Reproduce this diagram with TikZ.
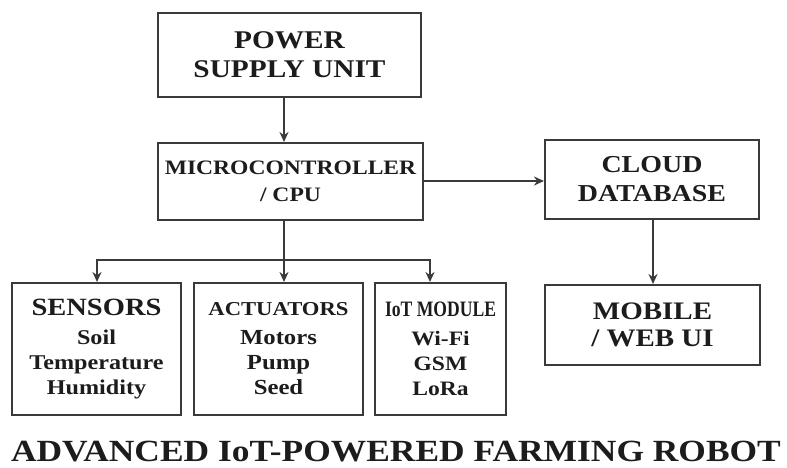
\documentclass[tikz,border=0pt]{standalone}
\usepackage{fontspec}
\setmainfont{Liberation Serif}
\newfontfamily\wideserif[FakeStretch=1.15]{Liberation Serif}
\newfontfamily\plainserif{Liberation Serif}
\usetikzlibrary{arrows.meta}
\definecolor{ink}{HTML}{1C1C1C}
\definecolor{frame}{HTML}{3A3A3A}
\newcommand{\fsz}[2]{\fontsize{#1}{#2}\selectfont}
\tikzset{
  block/.style={draw=frame, line width=2pt, rectangle, inner sep=0pt,
    align=center, text=ink, font=\wideserif\bfseries},
  link/.style={draw=frame, line width=2pt,
    -{Stealth[length=10pt,width=9pt]}},
  wire/.style={draw=frame, line width=2pt}
}
\begin{document}
\begin{tikzpicture}[x=1pt,y=-1pt]
  \useasboundingbox (0,0) rectangle (787,468);

  % top row
  \node[block, minimum width=263pt, minimum height=84pt,
        font=\wideserif\bfseries\fsz{25.5}{29}] (power) at (289.5,55)
        {POWER\\SUPPLY UNIT};
  \node[block, minimum width=265pt, minimum height=77pt,
        font=\wideserif\bfseries\fsz{20.5}{27}] (mcu) at (290.5,181.5)
        {MICROCONTROLLER\\/ CPU};
  \node[block, minimum width=214pt, minimum height=79pt,
        font=\wideserif\bfseries\fsz{24.3}{29}] (cloud) at (652,179.5)
        {CLOUD\\DATABASE};

  % bottom row
  \node[block, minimum width=169pt, minimum height=132pt,
        font=\wideserif\bfseries\fsz{21}{25}] (sensors) at (96.5,349)
        {{\fsz{24.8}{25}SENSORS}\\[4pt]Soil\\Temperature\\Humidity};
  \node[block, minimum width=169pt, minimum height=132pt,
        font=\wideserif\bfseries\fsz{21.5}{25}] (act) at (278.5,349)
        {{\fsz{19.7}{25}ACTUATORS}\\[4pt]Motors\\Pump\\Seed};
  \node[block, minimum width=131pt, minimum height=132pt,
        font=\wideserif\bfseries\fsz{20.5}{25}] (iot) at (440.5,349)
        {{\plainserif\bfseries\fsz{22}{25}\scalebox{0.8}[1]{IoT MODULE}}\\[4pt]Wi-Fi\\GSM\\LoRa};
  \node[block, minimum width=215pt, minimum height=80pt,
        font=\wideserif\bfseries\fsz{25.2}{27}] (ui) at (652.5,325)
        {MOBILE\\/ WEB UI};

  % title
  \node[text=ink, font=\wideserif\bfseries\fsz{30.8}{32}, inner sep=0pt]
        (title) at (396,452) {ADVANCED IoT-POWERED FARMING ROBOT};

  % connectors
  \coordinate (trunk) at (284,0);
  \coordinate (bus) at (0,260);
  \coordinate (side) at (0,181);
  \coordinate (tapS) at (97,0);
  \coordinate (tapA) at (284,0);
  \coordinate (tapI) at (430,0);
  \coordinate (tapU) at (653,0);

  \draw[link] (power.south -| trunk) -- (mcu.north -| trunk);
  \draw[link] (side -| mcu.east) -- (side -| cloud.west);
  \draw[link] (cloud.south -| tapU) -- (ui.north -| tapU);
  \draw[wire] (mcu.south -| trunk) -- (bus -| trunk);
  \draw[wire, line cap=rect] (bus -| tapS) -- (bus -| tapI);
  \draw[link] (bus -| tapS) -- (sensors.north -| tapS);
  \draw[link] (bus -| tapA) -- (act.north -| tapA);
  \draw[link] (bus -| tapI) -- (iot.north -| tapI);
\end{tikzpicture}
\end{document}
